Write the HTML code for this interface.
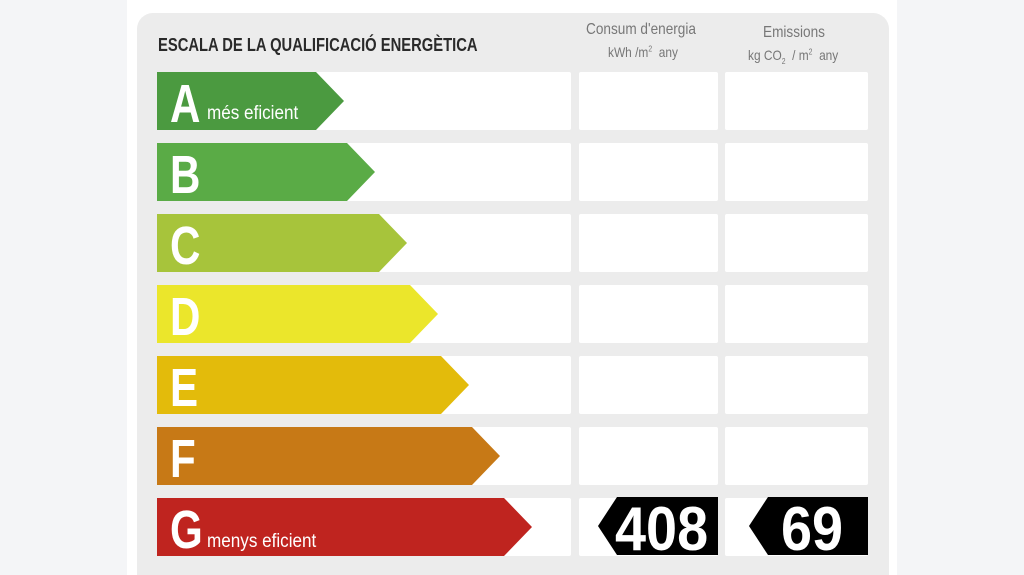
<!DOCTYPE html>
<html><head><meta charset="utf-8"><style>
html,body{margin:0;width:1024px;height:575px;overflow:hidden}
body{background:#f4f5f7;position:relative;font-family:"Liberation Sans",sans-serif}
.page{position:absolute;left:127px;top:0;width:770px;height:575px;background:#fff}
.panel{position:absolute;left:137px;top:13px;width:752px;height:562px;background:#ececec;border-radius:16px 16px 0 0}
.t{position:absolute;white-space:nowrap;transform-origin:0 0}
.cell{position:absolute;background:#fff;border-radius:2px;height:58px}
svg{position:absolute;left:0;top:0}
.L{font-size:54px;font-weight:bold;color:#fff;transform:scaleX(0.78)}
</style></head><body>
<div class="page"></div>
<div class="panel"></div>
<div class="t" style="left:158px;top:35px;font-size:18px;font-weight:bold;color:#2a2a2a;transform:scaleX(0.82)">ESCALA DE LA QUALIFICACIÓ ENERGÈTICA</div>
<div class="t" style="left:586px;top:21px;font-size:16px;color:#777;transform:scaleX(0.85)">Consum d'energia</div>
<div class="t" style="left:608px;top:44px;font-size:14px;color:#777;transform:scaleX(0.85)">kWh /m<sup style="font-size:8px">2</sup>&nbsp; any</div>
<div class="t" style="left:763px;top:24px;font-size:16px;color:#777;transform:scaleX(0.85)">Emissions</div>
<div class="t" style="left:748px;top:47px;font-size:14px;color:#777;transform:scaleX(0.85)">kg CO<sub style="font-size:8px">2</sub>&nbsp; / m<sup style="font-size:8px">2</sup>&nbsp; any</div>

<div class="cell" style="left:157px;top:72px;width:414px"></div><div class="cell" style="left:579px;top:72px;width:139px"></div><div class="cell" style="left:725px;top:72px;width:143px"></div>
<div class="cell" style="left:157px;top:143px;width:414px"></div><div class="cell" style="left:579px;top:143px;width:139px"></div><div class="cell" style="left:725px;top:143px;width:143px"></div>
<div class="cell" style="left:157px;top:214px;width:414px"></div><div class="cell" style="left:579px;top:214px;width:139px"></div><div class="cell" style="left:725px;top:214px;width:143px"></div>
<div class="cell" style="left:157px;top:285px;width:414px"></div><div class="cell" style="left:579px;top:285px;width:139px"></div><div class="cell" style="left:725px;top:285px;width:143px"></div>
<div class="cell" style="left:157px;top:356px;width:414px"></div><div class="cell" style="left:579px;top:356px;width:139px"></div><div class="cell" style="left:725px;top:356px;width:143px"></div>
<div class="cell" style="left:157px;top:427px;width:414px"></div><div class="cell" style="left:579px;top:427px;width:139px"></div><div class="cell" style="left:725px;top:427px;width:143px"></div>
<div class="cell" style="left:157px;top:498px;width:414px"></div><div class="cell" style="left:579px;top:498px;width:139px"></div><div class="cell" style="left:725px;top:498px;width:143px"></div>

<svg width="1024" height="575">
<polygon points="157,72 316,72 344,101 316,130 157,130" fill="#4b9a40"/>
<polygon points="157,143 347,143 375,172 347,201 157,201" fill="#5aab46"/>
<polygon points="157,214 379,214 407,243 379,272 157,272" fill="#a7c43b"/>
<polygon points="157,285 410,285 438,314 410,343 157,343" fill="#ebe62b"/>
<polygon points="157,356 441,356 469,385 441,414 157,414" fill="#e3bb0b"/>
<polygon points="157,427 472,427 500,456 472,485 157,485" fill="#c77916"/>
<polygon points="157,498 504,498 532,527 504,556 157,556" fill="#bf241f"/>
<polygon points="617,497 718,497 718,555 617,555 598,526" fill="#000"/>
<polygon points="768,497 868,497 868,555 768,555 749,526" fill="#000"/>
</svg>
<div class="t L" style="left:170px;top:73px">A</div>
<div class="t" style="left:207px;top:103px;font-size:19px;color:#fff;transform:scaleX(0.9)">més eficient</div>
<div class="t L" style="left:170px;top:144px">B</div>
<div class="t L" style="left:170px;top:215px">C</div>
<div class="t L" style="left:170px;top:286px">D</div>
<div class="t L" style="left:170px;top:357px">E</div>
<div class="t L" style="left:170px;top:428px">F</div>
<div class="t L" style="left:170px;top:499px">G</div>
<div class="t" style="left:207px;top:531px;font-size:19px;color:#fff;transform:scaleX(0.9)">menys eficient</div>
<div class="t" style="left:615px;top:494px;font-size:62px;font-weight:bold;color:#fff;transform:scaleX(0.9)">408</div>
<div class="t" style="left:781px;top:494px;font-size:62px;font-weight:bold;color:#fff;transform:scaleX(0.9)">69</div>
</body></html>
